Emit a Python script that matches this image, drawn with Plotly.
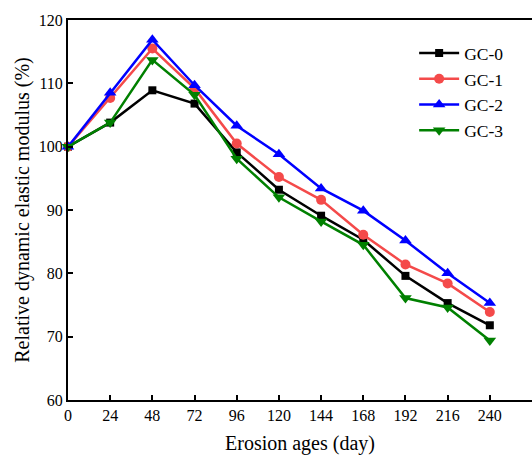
import plotly.graph_objects as go

AGES = [0, 24, 48, 72, 96, 120, 144, 168, 192, 216, 240]

GC0 = [100.0, 103.8, 108.9, 106.8, 99.1, 93.2, 89.1, 85.3, 79.6, 75.3, 71.8]
GC1 = [100.0, 107.7, 115.5, 109.2, 100.5, 95.2, 91.6, 86.1, 81.4, 78.4, 73.9]
GC2 = [100.0, 108.5, 116.9, 109.7, 103.3, 98.8, 93.4, 89.9, 85.2, 80.0, 75.3]
GC3 = [100.0, 103.8, 113.7, 108.2, 98.1, 92.0, 88.2, 84.5, 76.1, 74.6, 69.4]

SERIES = [
    ("GC-0", GC0, "#000000", "square", 8),
    ("GC-1", GC1, "#f44a4a", "circle", 10),
    ("GC-2", GC2, "#0000ff", "triangle-up", 11),
    ("GC-3", GC3, "#008000", "triangle-down", 11),
]

FONT = "Liberation Serif"

fig = go.Figure()
for name, values, color, symbol, size in SERIES:
    fig.add_scatter(
        x=AGES,
        y=values,
        name=name,
        mode="lines+markers",
        line={"color": color, "width": 2.5},
        marker={"symbol": symbol, "size": size, "color": color},
        cliponaxis=False,
    )

fig.update_layout(
    width=532,
    height=455,
    margin={"l": 68, "r": 0, "t": 20, "b": 55},
    paper_bgcolor="white",
    plot_bgcolor="white",
    font={"family": FONT, "size": 16, "color": "#000000"},
    showlegend=True,
    legend={
        "x": 0.746,
        "y": 0.96,
        "xanchor": "left",
        "yanchor": "top",
        "font": {"family": FONT, "size": 17.5},
        "bgcolor": "rgba(0,0,0,0)",
        "tracegroupgap": 0,
        "itemwidth": 40,
    },
)
fig.update_xaxes(
    range=[0, 264],
    tickvals=AGES,
    ticks="inside",
    ticklen=5,
    tickwidth=1.5,
    tickcolor="#000000",
    showline=True,
    linecolor="#000000",
    linewidth=2,
    mirror=True,
    showgrid=False,
    zeroline=False,
    tickfont={"family": FONT, "size": 16},
    title={"text": "Erosion ages (day)", "font": {"family": FONT, "size": 20}, "standoff": 16},
)
fig.update_yaxes(
    range=[60, 120],
    tickvals=[60, 70, 80, 90, 100, 110, 120],
    ticks="inside",
    ticklen=5,
    tickwidth=1.5,
    tickcolor="#000000",
    showline=True,
    linecolor="#000000",
    linewidth=2,
    showgrid=False,
    zeroline=False,
    tickfont={"family": FONT, "size": 16},
    title={
        "text": "Relative dynamic elastic modulus (%)",
        "font": {"family": FONT, "size": 20},
        "standoff": 4,
    },
)

fig.write_html(
    "out.html",
    config={"displayModeBar": False},
    post_script="document.body.style.margin = '0';",
)
